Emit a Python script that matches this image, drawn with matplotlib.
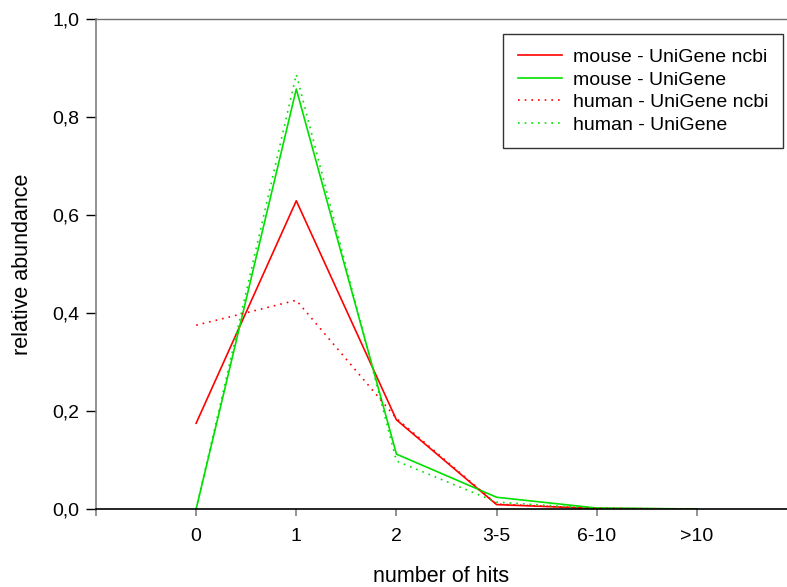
import numpy as np
import matplotlib.pyplot as plt

plt.rcParams['font.family'] = ['Liberation Sans', 'DejaVu Sans']

categories = ['0', '1', '2', '3-5', '6-10', '>10']
mouse_ncbi = [0.175, 0.629, 0.182, 0.009, 0.001, 0.0]
mouse_unigene = [0.0, 0.857, 0.112, 0.024, 0.002, 0.0]
human_ncbi = [0.375, 0.426, 0.185, 0.010, 0.001, 0.0]
human_unigene = [0.0, 0.887, 0.098, 0.014, 0.001, 0.0]

y_ticks = [0.0, 0.2, 0.4, 0.6, 0.8, 1.0]
y_labels = ['0,0', '0,2', '0,4', '0,6', '0,8', '1,0']

fig = plt.figure(figsize=(7.87, 5.87), dpi=100)
ax = fig.add_axes([96/787, 1 - 509/587, 1 - 96/787, (509 - 19)/587])

x = np.arange(len(categories))
dots = (0, (1, 3))
ax.plot(x, mouse_ncbi, color='#ff0000', lw=1.2, label='mouse - UniGene ncbi')
ax.plot(x, mouse_unigene, color='#00e000', lw=1.2, label='mouse - UniGene')
ax.plot(x, human_ncbi, color='#ff0000', lw=1.2, ls=dots, label='human - UniGene ncbi')
ax.plot(x, human_unigene, color='#00e000', lw=1.2, ls=dots, label='human - UniGene')

ax.set_xlim(-1, 5.9)
ax.set_ylim(0, 1.0)
ax.set_xticks(list(x) + [-1])
ax.set_xticklabels(categories + [''])
ax.set_yticks(y_ticks)
ax.set_yticklabels(y_labels)

ax.spines['right'].set_visible(False)
ax.spines['left'].set_color('#808080')
ax.spines['left'].set_linewidth(1.2)
ax.spines['top'].set_color('#707070')
ax.spines['top'].set_linewidth(1.0)
ax.spines['bottom'].set_color('black')
ax.spines['bottom'].set_linewidth(1.2)

ax.tick_params(axis='y', direction='out', length=7, width=1.0, color='black',
               labelsize=14, pad=5)
ax.tick_params(axis='x', direction='out', length=5, width=1.2, color='#808080',
               labelsize=14, pad=9)

ax.set_xlabel('number of hits', fontsize=15.5, labelpad=15)
ax.set_ylabel('relative abundance', fontsize=15.5, labelpad=14)

leg = ax.legend(loc='upper left', bbox_to_anchor=(503/787, 1 - 34/587),
                bbox_transform=fig.transFigure, borderaxespad=0,
                fontsize=14, frameon=True, fancybox=False,
                handlelength=2.3, handletextpad=0.55, labelspacing=0.25,
                borderpad=0.75)
leg.get_frame().set_edgecolor('black')
leg.get_frame().set_linewidth(1.0)

fig.savefig('out.png', dpi=100)
